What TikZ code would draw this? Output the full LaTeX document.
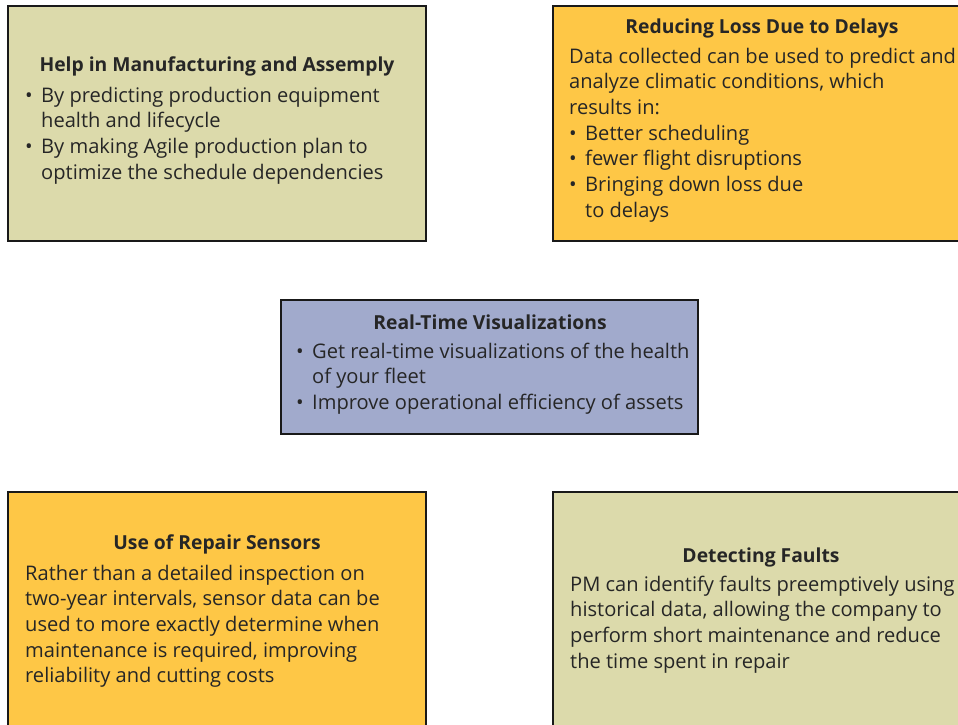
\documentclass[tikz,border=0pt]{standalone}
\usepackage{fontspec}
\setmainfont{Open Sans}
\definecolor{khaki}{RGB}{220,218,171}
\definecolor{amber}{RGB}{254,199,70}
\definecolor{lav}{RGB}{161,170,204}
\definecolor{txt}{RGB}{38,38,38}
\definecolor{edge}{RGB}{25,25,25}
\newcommand\bul{\makebox[16pt][l]{•}}
\newcommand\myind{\hspace*{16pt}}
\tikzset{
  card/.style={draw=edge, line width=1.8pt},
  ttl/.style={font=\bfseries\fontsize{19.3}{24}\selectfont, text=txt, inner sep=0},
  body/.style={font=\fontsize{20.1}{25.7}\selectfont, text=txt, align=left, anchor=north west, inner sep=0}
}
\begin{document}
\begin{tikzpicture}[x=1pt,y=-1pt]
\useasboundingbox (0,0) rectangle (958,725);
\clip (0,0) rectangle (958,725);
\fill[white] (0,0) rectangle (958,725);
% boxes
\draw[card, fill=khaki] (8,6) rectangle (426,241);
\draw[card, fill=amber] (553,6) rectangle (975,241);
\draw[card, fill=lav] (281,300) rectangle (698,434);
\draw[card, fill=amber] (8,492) rectangle (426,740);
\draw[card, fill=khaki] (553,492) rectangle (975,740);
% box 1
\node[ttl] (t1) at (217,66.5) {Help in Manufacturing and Assemply};
\node[body] (b1) at (25,84) {\strut\bul By predicting production equipment\\
\myind health and lifecycle\\
\bul By making Agile production plan to\\
\myind optimize the schedule dependencies};
% box 2
\node[ttl] (t2) at (762,28.5) {Reducing Loss Due to Delays};
\node[body] (b2) at (569,45) {\strut Data collected can be used to predict and\\
analyze climatic conditions, which\\
results in:\\
\bul Better scheduling\\
\bul fewer flight disruptions\\
\bul Bringing down loss due\\
\myind to delays};
% box 3
\node[ttl] (t3) at (490,322.5) {Real-Time Visualizations};
\node[body] (b3) at (296,340) {\strut\bul Get real-time visualizations of the health\\
\myind of your fleet\\
\bul Improve operational efficiency of assets};
% box 4
\node[ttl] (t4) at (217,544.5) {Use of Repair Sensors};
\node[body] (b4) at (25,562) {\strut Rather than a detailed inspection on\\
two-year intervals, sensor data can be\\
used to more exactly determine when\\
maintenance is required, improving\\
reliability and cutting costs};
% box 5
\node[ttl] (t5) at (761,557.5) {Detecting Faults};
\node[body] (b5) at (570,573) {\strut PM can identify faults preemptively using\\
historical data, allowing the company to\\
perform short maintenance and reduce\\
the time spent in repair};
\end{tikzpicture}
\end{document}
